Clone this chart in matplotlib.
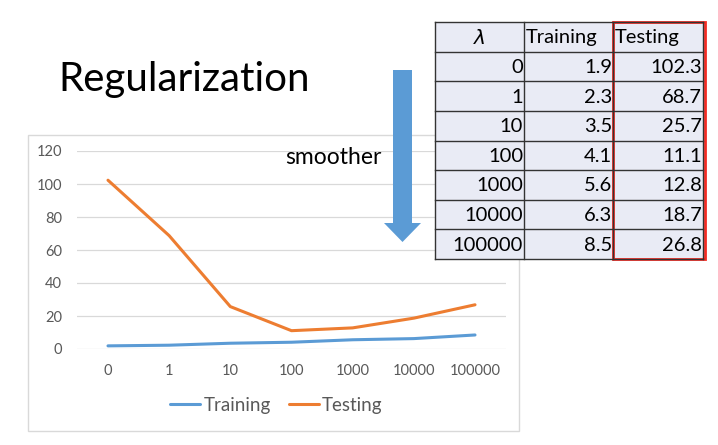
import numpy as np
import matplotlib.pyplot as plt
from matplotlib.patches import Rectangle, Polygon

# data
lambdas = ['0', '1', '10', '100', '1000', '10000', '100000']
training = [1.9, 2.3, 3.5, 4.1, 5.6, 6.3, 8.5]
testing = [102.3, 68.7, 25.7, 11.1, 12.8, 18.7, 26.8]
y_ticks = [0, 20, 40, 60, 80, 100, 120]
headers = ['$\\lambda$', 'Training', 'Testing']

plt.rcParams['font.family'] = ['Lato', 'DejaVu Sans']

W, H = 718, 445
fig = plt.figure(figsize=(W / 100, H / 100), dpi=100)


def box(x0, y0, x1, y1):
    return [x0 / W, 1 - y1 / H, (x1 - x0) / W, (y1 - y0) / H]


blue = '#5B9BD5'
orange = '#ED7D31'

# ---- line chart
ax = fig.add_axes(box(77.4, 151, 505.6, 349), zorder=1)
x = np.arange(len(lambdas))
ax.plot(x, training, color=blue, lw=2.2, label='Training', solid_capstyle='round')
ax.plot(x, testing, color=orange, lw=2.2, label='Testing', solid_capstyle='round')
ax.set_xlim(-0.5, len(lambdas) - 0.5)
ax.set_ylim(0, 120)
ax.set_yticks(y_ticks)
ax.set_xticks(x)
ax.set_xticklabels(lambdas)
ax.grid(axis='y', color='#D9D9D9', lw=0.9)
ax.set_axisbelow(True)
for s in ax.spines.values():
    s.set_visible(False)
ax.tick_params(length=0, labelsize=10.5, colors='#595959')
ax.tick_params(axis='x', pad=11)
ax.tick_params(axis='y', pad=11)
ax.legend(loc='center', bbox_to_anchor=(0.465, -0.283), ncol=2, frameon=False,
          fontsize=13.5, handlelength=1.6, handletextpad=0.15, columnspacing=1.0,
          labelcolor='#595959')

# ---- overlay in pixel coordinates for slide decorations
ov = fig.add_axes([0, 0, 1, 1], zorder=5)
ov.set_xlim(0, W)
ov.set_ylim(H, 0)
ov.axis('off')
ov.patch.set_alpha(0)

# chart frame
ov.add_patch(Rectangle((28, 135), 491, 296, fc='none', ec='#D9D9D9', lw=1))

ov.text(58, 80, 'Regularization', fontsize=29, va='center', ha='left', color='black')
ov.text(285, 158, 'smoother', fontsize=16.5, va='center', ha='left', color='black')

# down arrow
ov.add_patch(Polygon([(393, 70), (412, 70), (412, 223), (421, 223), (402.5, 242),
                      (384, 223), (393, 223)], closed=True, fc=blue, ec='none'))

# table
cols = [435, 524, 613, 703]
rows = np.linspace(22, 259, len(lambdas) + 2)
ov.add_patch(Rectangle((cols[0], rows[0]), cols[-1] - cols[0], rows[-1] - rows[0],
                       fc='#E9EBF5', ec='none'))
for yy in rows:
    ov.plot([cols[0], cols[-1]], [yy, yy], color='#333333', lw=1)
for xx in cols:
    ov.plot([xx, xx], [rows[0], rows[-1]], color='#333333', lw=1)

hy = (rows[0] + rows[1]) / 2 + 1
ov.text((cols[0] + cols[1]) / 2, hy, headers[0], fontsize=14.5, ha='center', va='center')
ov.text(cols[1] + 2, hy, headers[1], fontsize=14.5, ha='left', va='center')
ov.text(cols[2] + 2, hy, headers[2], fontsize=14.5, ha='left', va='center')
for i, lam in enumerate(lambdas):
    cy = (rows[i + 1] + rows[i + 2]) / 2 + 1
    ov.text(cols[1] - 1, cy, lam, fontsize=14.5, ha='right', va='center')
    ov.text(cols[2] - 1, cy, f'{training[i]:.1f}', fontsize=14.5, ha='right', va='center')
    ov.text(cols[3] - 1, cy, f'{testing[i]:.1f}', fontsize=14.5, ha='right', va='center')

ov.add_patch(Rectangle((613, 22), 92, 237, fc='none', ec='#F52A22', lw=2))

fig.savefig('out.png', dpi=100)
